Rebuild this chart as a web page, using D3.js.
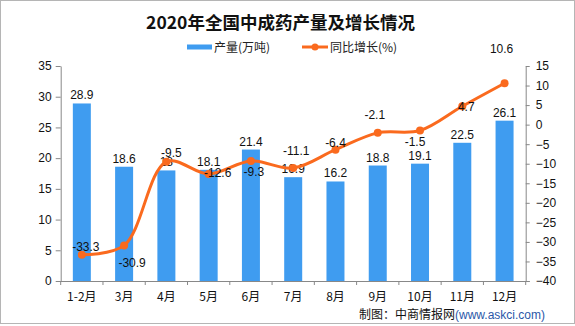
<!DOCTYPE html>
<html>
<head>
<meta charset="utf-8">
<script src="https://cdn.jsdelivr.net/npm/d3@7"></script>
<style>
html,body{margin:0;padding:0;background:#fff;}
svg{display:block;}
text{font-family:"Liberation Sans","Noto Sans CJK SC",sans-serif;}
</style>
</head>
<body>
<svg id="chart" width="575" height="326"></svg>
<script>
// ---- data ----
const categories = ["1-2月","3月","4月","5月","6月","7月","8月","9月","10月","11月","12月"];
const production = [28.9,18.6,18,18.1,21.4,16.9,16.2,18.8,19.1,22.5,26.1];
const growth = [-33.3,-30.9,-9.5,-12.6,-9.3,-11.1,-6.4,-2.1,-1.5,4.7,10.6];
const leftTicks = [0,5,10,15,20,25,30,35];
const rightTicks = [-40,-35,-30,-25,-20,-15,-10,-5,0,5,10,15];
const titleText = "2020年全国中成药产量及增长情况";
const seriesNames = ["产量(万吨)","同比增长(%)"];

// label placement for the growth labels (layout only)
const growthLabelOffsets = [[4,-8],[8,17],[5,-9],[9,-1],[3,11],[3,-17],[0,-7],[-3,-18],[-5,11.5],[4,1],[-3,-34]];

(function(){
const blue = "#3f9cf0", orange = "#fa6a1e", axisGray = "#888";
const svg = d3.select("#chart");

// border
svg.append("rect").attr("x",0.5).attr("y",0.5).attr("width",574).attr("height",323)
  .attr("fill","#fff").attr("stroke","#b5b5b5");

const pLeft = 60.7, pRight = 525.7, pTop = 66, pBottom = 281;
const x = d3.scaleBand().domain(categories).range([pLeft,pRight]).padding(0);
const yL = d3.scaleLinear().domain([0,35]).range([pBottom,pTop]);
const yR = d3.scaleLinear().domain([-40,15]).range([pBottom,pTop]);

// title
svg.append("text").attr("x",280.5).attr("y",29).attr("text-anchor","middle")
  .style("font-family","'Noto Sans CJK SC',sans-serif").style("font-weight","bold")
  .style("font-size","17.5px").attr("fill","#111").text(titleText);

// legend
const lg = svg.append("g");
lg.append("rect").attr("x",187).attr("y",44.5).attr("width",25).attr("height",5).attr("fill",blue);
lg.append("text").attr("x",214).attr("y",51.5).style("font-size","12px")
  .style("font-family","'Noto Sans CJK SC',sans-serif").attr("fill","#222").text(seriesNames[0]);
lg.append("line").attr("x1",302).attr("x2",328).attr("y1",47).attr("y2",47)
  .attr("stroke",orange).attr("stroke-width",3);
lg.append("circle").attr("cx",315).attr("cy",47).attr("r",3.5).attr("fill",orange);
lg.append("text").attr("x",330).attr("y",51.5).style("font-size","12px")
  .style("font-family","'Noto Sans CJK SC',sans-serif").attr("fill","#222").text(seriesNames[1]);

// axes
const axL = svg.append("g").attr("transform",`translate(${pLeft},0)`)
  .call(d3.axisLeft(yL).tickValues(leftTicks).tickSize(5).tickSizeOuter(0).tickPadding(4).tickFormat(d3.format("d")));
const axR = svg.append("g").attr("transform",`translate(${pRight},0)`)
  .call(d3.axisRight(yR).tickValues(rightTicks).tickSize(4).tickSizeOuter(0).tickPadding(6).tickFormat(d3.format("d")));
const axB = svg.append("g").attr("transform",`translate(0,${pBottom})`)
  .call(d3.axisBottom(x).tickSize(0).tickPadding(11));
[axL,axR,axB].forEach(a=>{
  a.selectAll("path,line").attr("stroke",axisGray);
  a.selectAll("text").style("font-size","12px").attr("fill","#111");
});
axB.select(".domain").attr("d",`M${pLeft-4},0.5H${pRight+4}`);
axB.selectAll("text").style("font-family","'Noto Sans CJK SC','Liberation Sans',sans-serif");
// category boundary ticks
const bounds = categories.map(c=>x(c)).concat([pRight]);
svg.append("g").selectAll("line").data(bounds).join("line")
  .attr("x1",d=>d).attr("x2",d=>d).attr("y1",pBottom).attr("y2",pBottom+4)
  .attr("stroke",axisGray);

// bars
const bw = 18;
svg.append("g").selectAll("rect").data(production).join("rect")
  .attr("x",(d,i)=>x(categories[i])+x.bandwidth()/2-bw/2)
  .attr("width",bw)
  .attr("y",d=>yL(d)).attr("height",d=>yL(0)-yL(d)).attr("fill",blue);
svg.append("g").selectAll("text").data(production).join("text")
  .attr("x",(d,i)=>x(categories[i])+x.bandwidth()/2)
  .attr("y",d=>yL(d)-4).attr("text-anchor","middle")
  .style("font-size","12px").attr("fill","#111").text(d=>d);

// line
const pts = growth.map((g,i)=>[x(categories[i])+x.bandwidth()/2, yR(g)]);
svg.append("path").datum(pts)
  .attr("d",d3.line().curve(d3.curveCatmullRom.alpha(0.5)))
  .attr("fill","none").attr("stroke",orange).attr("stroke-width",3);
svg.append("g").selectAll("circle").data(pts).join("circle")
  .attr("cx",d=>d[0]).attr("cy",d=>d[1]).attr("r",4).attr("fill",orange);
svg.append("g").selectAll("text").data(growth).join("text")
  .attr("x",(d,i)=>pts[i][0]+growthLabelOffsets[i][0])
  .attr("y",(d,i)=>pts[i][1]+growthLabelOffsets[i][1]).attr("dy","0.35em")
  .attr("text-anchor","middle").style("font-size","12px").attr("fill","#111")
  .text(d=>d);

// footer
const ft = svg.append("text").attr("x",359).attr("y",319).style("font-size","12px")
  .style("font-family","'Noto Sans CJK SC',sans-serif");
ft.append("tspan").attr("fill","#111").text("制图：中商情报网");
ft.append("tspan").attr("fill","#2b57a8").style("font-family","'Liberation Sans',sans-serif").text("(www.askci.com)");
})();
</script>
</body>
</html>
